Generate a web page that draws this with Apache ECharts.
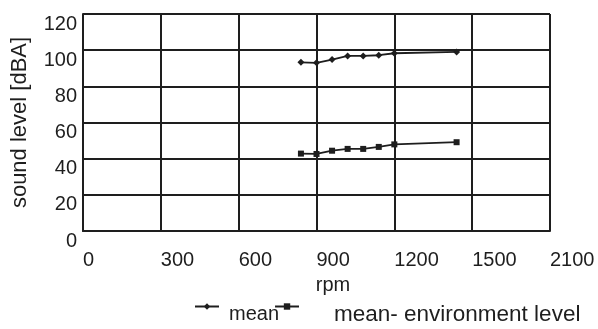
<!DOCTYPE html>
<html>
<head>
<meta charset="utf-8">
<script src="https://cdn.jsdelivr.net/npm/echarts@6/dist/echarts.min.js"></script>
<style>
  html, body { margin: 0; padding: 0; background: #fff; }
  #chart { width: 598px; height: 329px; }
</style>
</head>
<body>
<div id="chart"></div>
<script>
// Engine speed (rpm) at each measurement
const rpm = [840, 900, 960, 1020, 1080, 1140, 1200, 1440];
// Mean sound level, dBA
const meanLevel = [93.3, 93.0, 94.8, 96.8, 96.8, 97.2, 98.3, 99.0];
// Mean minus environment level, dBA
const meanMinusEnv = [42.8, 42.6, 44.4, 45.4, 45.4, 46.5, 47.9, 49.1];
// Labels printed under the rpm gridlines
const xTickLabels = ['0', '300', '600', '900', '1200', '1500', '2100'];
const yTickLabels = ['0', '20', '40', '60', '80', '100', '120'];

const ink = '#1e1e1e';
const font = "'Liberation Sans', Arial, sans-serif";

function pairs(xs, ys) {
  return xs.map((x, i) => [x, ys[i]]);
}

const chart = echarts.init(document.getElementById('chart'), null, { renderer: 'canvas' });
chart.setOption({
  backgroundColor: '#ffffff',
  animation: false,
  grid: { left: 83, right: 48, top: 14, bottom: 98 },
  xAxis: {
    type: 'value',
    min: 0,
    max: 1800,
    interval: 300,
    name: 'rpm',
    nameLocation: 'middle',
    nameGap: 44,
    nameTextStyle: { color: ink, fontFamily: font, fontSize: 20, padding: [0, 0, 0, 33], verticalAlign: 'top' },
    axisLine: { show: true, lineStyle: { color: ink, width: 2 } },
    axisTick: { show: false },
    splitLine: { show: true, lineStyle: { color: ink, width: 2 } },
    axisLabel: {
      color: ink,
      fontFamily: font,
      fontSize: 20,
      margin: 19,
      align: 'left',
      formatter: (v) => xTickLabels[Math.round(v / 300)]
    }
  },
  yAxis: {
    type: 'value',
    min: 0,
    max: 120,
    interval: 20,
    name: 'sound level [dBA]',
    nameLocation: 'middle',
    nameGap: 52,
    nameTextStyle: { color: ink, fontFamily: font, fontSize: 22 },
    axisLine: { show: true, lineStyle: { color: ink, width: 2 } },
    axisTick: { show: false },
    splitLine: { show: true, lineStyle: { color: ink, width: 2 } },
    axisLabel: {
      color: ink,
      fontFamily: font,
      fontSize: 20,
      margin: 6,
      verticalAlign: 'top',
      formatter: (v) => yTickLabels[Math.round(v / 20)]
    }
  },
  legend: {
    left: 189,
    top: 298,
    itemWidth: 24,
    itemHeight: 8,
    itemGap: -5,
    formatter: (name) => (name === 'mean' ? '{a|' + name + '}' : '{b|' + name + '}'),
    textStyle: {
      color: ink,
      fontFamily: font,
      rich: {
        a: { fontFamily: font, fontSize: 20, color: ink, padding: [16, 0, 0, 5] },
        b: { fontFamily: font, fontSize: 22.5, color: ink, padding: [16, 0, 0, 30] }
      }
    },
    data: ['mean', 'mean- environment level']
  },
  series: [
    {
      name: 'mean',
      type: 'line',
      data: pairs(rpm, meanLevel),
      symbol: 'diamond',
      symbolSize: 7,
      lineStyle: { color: ink, width: 1.8 },
      itemStyle: { color: ink }
    },
    {
      name: 'mean- environment level',
      type: 'line',
      data: pairs(rpm, meanMinusEnv),
      symbol: 'rect',
      symbolSize: 6,
      lineStyle: { color: ink, width: 1.8 },
      itemStyle: { color: ink }
    }
  ]
});
</script>
</body>
</html>
